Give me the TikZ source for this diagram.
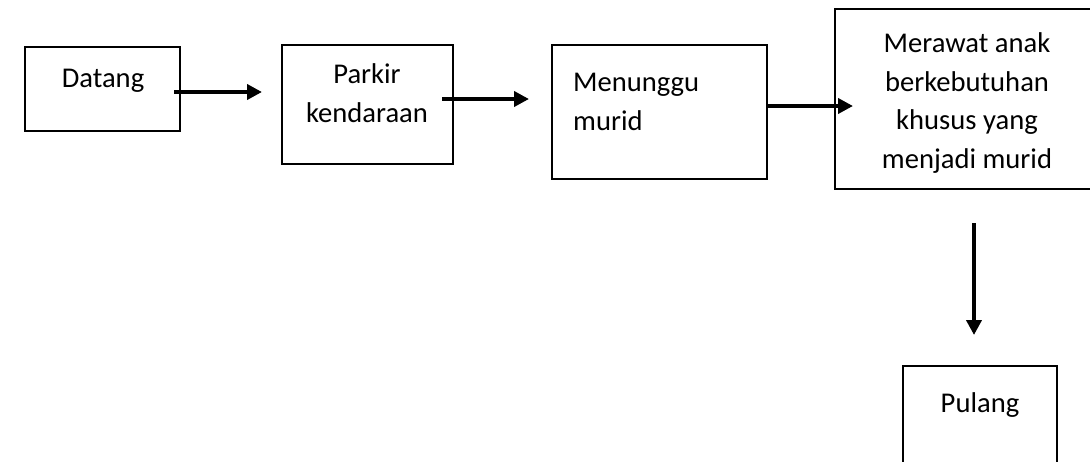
\documentclass[tikz,border=0pt]{standalone}
\usepackage{fontspec}
\setmainfont{Carlito}
\usetikzlibrary{arrows.meta}
\begin{document}
\begin{tikzpicture}[x=1pt,y=-1pt,
  box/.style={draw=black,line width=2.7pt,rectangle,inner sep=0pt},
  lbl/.style={inner sep=0pt,font=\fontsize{28.6}{38.5}\selectfont},
  arr/.style={line width=4pt,-{Triangle[length=15pt,width=15pt]}}]
\useasboundingbox (0,0) rectangle (1090,461);
\begin{scope}
\clip (0,0) rectangle (1090,461);
\node[box,minimum width=155,minimum height=84] (datang) at (102.5,89) {};
\node[box,minimum width=171,minimum height=119] (parkir) at (367.5,104.5) {};
\node[box,minimum width=215,minimum height=134] (menunggu) at (659.5,112) {};
\node[box,minimum width=270,minimum height=180] (merawat) at (970,99) {};
\node[box,minimum width=154,minimum height=109] (pulang) at (980,420.5) {};
\end{scope}
\node[lbl,anchor=base] (tdatang) at (103,87) {Datang};
\node[lbl,anchor=base,align=center] (tparkir) at (367,122) {Parkir\\kendaraan};
\node[lbl,anchor=base west,align=left] (tmenunggu) at (573,130) {Menunggu\\murid};
\node[lbl,anchor=base,align=center] (tmerawat) at (967,168) {Merawat anak\\berkebutuhan\\khusus yang\\menjadi murid};
\node[lbl,anchor=base] (tpulang) at (980,412) {Pulang};
\coordinate (a1s) at (174,92);
\coordinate (a1e) at (262,92);
\coordinate (a2s) at (442,99);
\coordinate (a2e) at (529,99);
\coordinate (a3s) at (767,106);
\coordinate (a3e) at (853,106);
\coordinate (a4s) at (974,223);
\coordinate (a4e) at (974,335);
\draw[arr] (a1s) -- (a1e);
\draw[arr] (a2s) -- (a2e);
\draw[arr] (a3s) -- (a3e);
\draw[arr] (a4s) -- (a4e);
\end{tikzpicture}
\end{document}
